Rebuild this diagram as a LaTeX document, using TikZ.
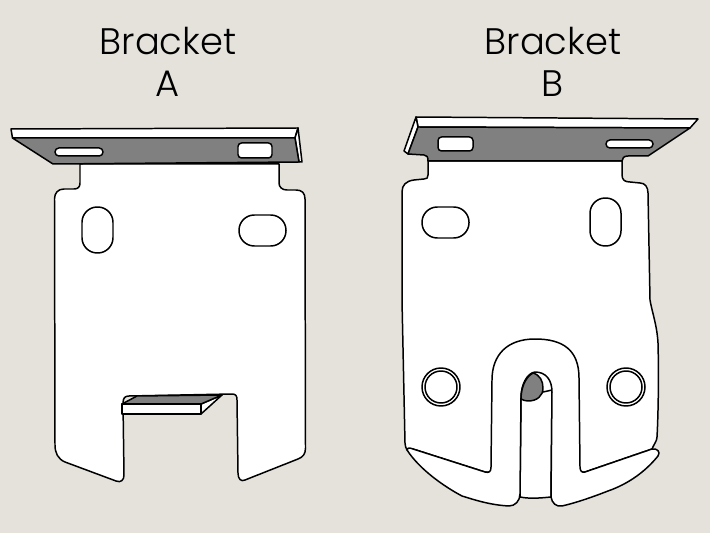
\documentclass[tikz,border=0pt]{standalone}
\usepackage{fontspec}
\setmainfont{Poppins Light}
\definecolor{paper}{HTML}{E5E2DB}
\definecolor{steel}{HTML}{808080}
\tikzset{
  plate/.style={draw=black,fill=white,line width=0.85pt,line join=round},
  shade/.style={draw=black,fill=steel,line width=0.85pt,line join=round},
  title/.style={align=center,font=\fontsize{21pt}{23.8pt}\selectfont,inner sep=0pt}
}
\begin{document}
\begin{tikzpicture}[x=0.02cm,y=-0.02cm]
\fill[paper] (0,0) rectangle (710,533);
\useasboundingbox (0,0) rectangle (710,533);

\node[title] (titleA) at (168,62) {Bracket\\A};
\node[title] (titleB) at (553,62) {Bracket\\B};

% bracket A
\path[plate] (80,164) -- (80,183) .. controls (80,187) and (78,189) .. (74,189) -- (64,189)
  .. controls (58,189) and (54.5,193) .. (54.5,199) -- (55,445)
  .. controls (55,453) and (58,459) .. (65,462) -- (116,481)
  .. controls (121,483) and (124,480) .. (124,475) -- (123,403)
  .. controls (123,398) and (125,396) .. (129,396) -- (232,394)
  .. controls (236,394) and (237,396) .. (237,400) -- (238,473)
  .. controls (238,479) and (241,482) .. (245,480) -- (298,459)
  .. controls (303,457) and (305.5,454) .. (305.5,448) -- (305,199)
  .. controls (305,193) and (302,190) .. (296,190) -- (287,190)
  .. controls (282,190) and (279,187) .. (279,183) -- (279,164) -- cycle;
\path[plate,rounded corners=8.7pt] (82,207) rectangle (113,253);
\path[plate,rounded corners=8.7pt] (239,215) rectangle (286,246);
\path[plate] (11,129) -- (298,128) -- (295,138) -- (12.5,138) -- cycle;
\path[plate] (298,128) -- (302,162) -- (299,162) -- (295,138) -- cycle;
\path[shade] (12.5,138) -- (295,138) -- (299,162) -- (53,164) -- cycle;
\path[plate,rounded corners=2.2pt] (55,148) rectangle (103,156);
\path[plate,rounded corners=2pt] (238,143) rectangle (272,158);
\path[plate] (201,404) -- (222,395) -- (201,414) -- cycle;
\path[shade] (122,404) -- (137,396) -- (222,395) -- (201,404) -- cycle;
\path[plate] (122,404) rectangle (201,414);

% bracket B
\path[plate] (407,450) .. controls (406,448) and (405,446) .. (405,443) -- (402,300) -- (402,192)
  .. controls (402,185) and (406,181) .. (414,180) -- (424,179)
  .. controls (427,179) and (428,178) .. (428,175) -- (428,161) -- (622,161) -- (622,175)
  .. controls (622,180) and (625,182) .. (630,182) -- (640,183)
  .. controls (645,183) and (648,187) .. (648,193) -- (650,300)
  .. controls (652,312) and (657,325) .. (658,343)
  .. controls (659,380) and (658,420) .. (657,437)
  .. controls (657,441) and (654,444) .. (652,449)
  -- (585,472) -- (485,472) -- (413,449) -- cycle;
\path[plate] (520,497) .. controls (530,499) and (541,498) .. (551,497) -- (552,390) -- (521,397) -- cycle;
\path[plate] (407,450) .. controls (408,447) and (410,448) .. (413,449) -- (485,472)
  .. controls (489,473) and (491,472) .. (491,467) -- (492,380)
  .. controls (492,355) and (507,339) .. (535,339)
  .. controls (563,339) and (579,350) .. (579,378)
  -- (580,467) .. controls (580,471) and (582,473) .. (585,472) -- (652,449)
  .. controls (657,448) and (661,452) .. (658,456)
  .. controls (645,472) and (628,484) .. (608,491)
  .. controls (590,498) and (575,503) .. (562,506)
  .. controls (556,507) and (552,503) .. (551,497)
  -- (552,392) .. controls (552,380) and (546,372) .. (535,372)
  .. controls (527,373) and (521,385) .. (521,397)
  -- (520,494) .. controls (520,501) and (515,506) .. (509,506)
  .. controls (490,505) and (475,500) .. (462,496)
  .. controls (445,487) and (420,470) .. (407,450) -- cycle;
\path[shade] (533,373) .. controls (540,375) and (543,381) .. (543,388)
  .. controls (543,396) and (537,401) .. (528,401)
  .. controls (525,401) and (523,400) .. (521,399)
  .. controls (521,390) and (524,378) .. (533,373) -- cycle;
\path[plate] (441,387) circle (19);
\path[plate] (441,387) circle (16);
\path[plate] (626,387) circle (19);
\path[plate] (626,387) circle (16);
\path[plate,rounded corners=8.7pt] (422,207) rectangle (469,238);
\path[plate,rounded corners=8.7pt] (590,198) rectangle (621,246);
\path[plate] (416,117) -- (698,119) -- (690,128) -- (418,127) -- cycle;
\path[plate] (416,117) -- (418,127) -- (408,154) -- (404,151) -- cycle;
\path[shade] (418,127) -- (690,128) -- (648,156) -- (628,156)
  .. controls (624,156) and (622,158) .. (622,161) -- (428,161)
  .. controls (428,157) and (427,155) .. (424,155) -- (408,154) -- cycle;
\path[plate,rounded corners=2pt] (438,137) rectangle (473,151);
\path[plate,rounded corners=2.2pt] (606,140) rectangle (653,148);
\end{tikzpicture}
\end{document}
